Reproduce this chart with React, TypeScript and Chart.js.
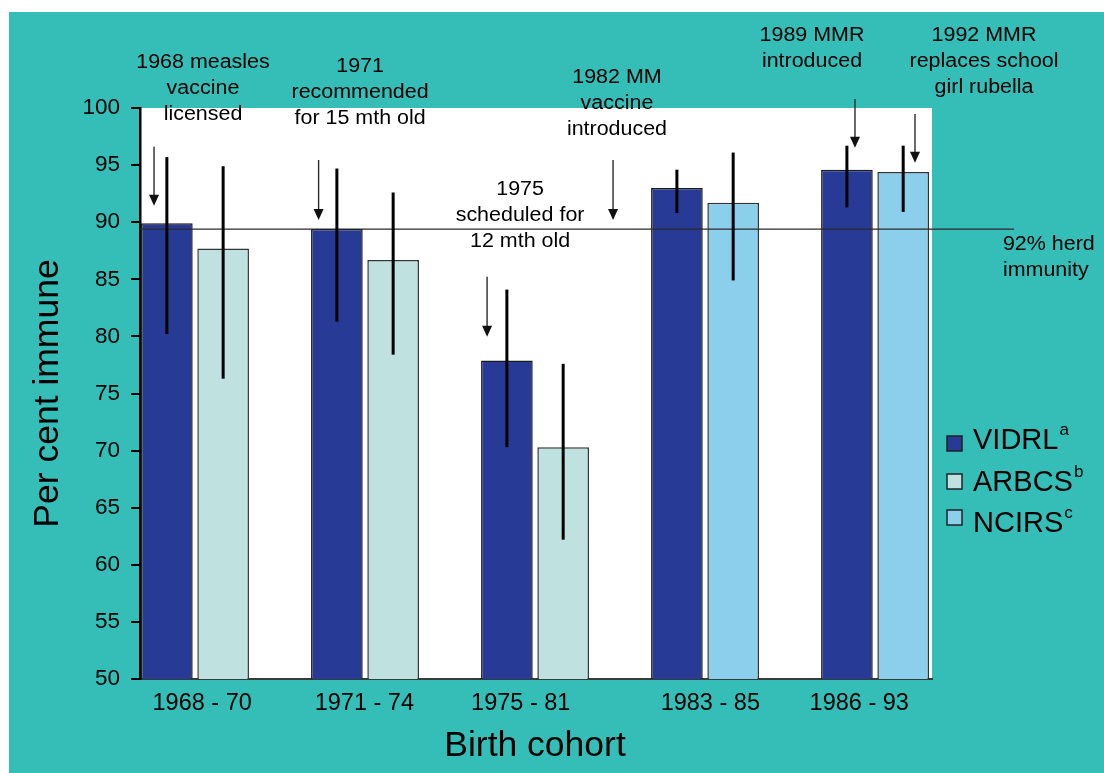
import React, { useEffect, useRef } from 'react';
import { Chart, registerables } from 'chart.js';

Chart.register(...registerables);

const FONT = '"Liberation Sans", Arial, Helvetica, sans-serif';
const OX = 9;
const OY = 12;

// ---- data ----
const cohorts = ['1968 - 70', '1971 - 74', '1975 - 81', '1983 - 85', '1986 - 93'];
const cohortLabelPos = [0.042, 0.996, 1.916, 3.031, 3.907];
const vidrl = [89.9, 89.4, 77.9, 93.0, 94.6];
const vidrlLow = [80.2, 81.3, 70.3, 90.8, 91.3];
const vidrlHigh = [95.7, 94.7, 84.1, 94.6, 96.7];
const arbcs = [87.7, 86.7, 70.3, null, null];
const arbcsLow = [76.3, 78.4, 62.2, null, null];
const arbcsHigh = [94.9, 92.6, 77.6, null, null];
const ncirs = [null, null, null, 91.7, 94.4];
const ncirsLow = [null, null, null, 84.9, 90.9];
const ncirsHigh = [null, null, null, 96.1, 96.7];
const herdValue = 89.4;
const yTicks = [50, 55, 60, 65, 70, 75, 80, 85, 90, 95, 100];

// annotations (x in cohort units, y in percent units)
const notes = [
  { x: 0.047, y: 103.5, lines: ['1968 measles', 'vaccine', 'licensed'] },
  { x: 0.971, y: 103.15, lines: ['1971', 'recommended', 'for 15 mth old'] },
  { x: 1.912, y: 92.38, lines: ['1975', 'scheduled for', '12 mth old'] },
  { x: 2.482, y: 102.19, lines: ['1982 MM', 'vaccine', 'introduced'] },
  { x: 3.629, y: 105.87, lines: ['1989 MMR', 'introduced'] },
  { x: 4.641, y: 105.87, lines: ['1992 MMR', 'replaces school', 'girl rubella'] },
];
const arrows = [
  { x: -0.241, from: 96.61, to: 91.44 },
  { x: 0.727, from: 95.45, to: 90.19 },
  { x: 1.718, from: 85.23, to: 79.97 },
  { x: 2.459, from: 95.45, to: 90.19 },
  { x: 3.882, from: 100.79, to: 96.52 },
  { x: 4.235, from: 99.47, to: 95.21 },
];
const herdLabel = { x: 4.752, y: 87.57, lines: ['92% herd', 'immunity'] };
const herdEnd = 4.818;

const C_BG = '#35BEB8';
const C_VIDRL = '#273A96';
const C_ARBCS = '#BFE2E0';
const C_NCIRS = '#8BCFEC';

const legendItems = [
  { name: 'VIDRL', sup: 'a', color: C_VIDRL },
  { name: 'ARBCS', sup: 'b', color: C_ARBCS },
  { name: 'NCIRS', sup: 'c', color: C_NCIRS },
];

const NOTE_SIZE = 19.5;
const NOTE_STRETCH = 1.1;
const GROUP_FRACTION = 0.662; // of one cohort step

const decor = {
  id: 'decor',
  beforeDraw(chart: any) {
    const { ctx, chartArea: a, width, height } = chart;
    ctx.save();
    ctx.fillStyle = C_BG;
    ctx.fillRect(0, 0, width, height);
    ctx.fillStyle = '#ffffff';
    ctx.fillRect(a.left, a.top, a.right - a.left, a.bottom - a.top);
    ctx.restore();
  },
  afterDatasetsDraw(chart: any) {
    const { ctx, chartArea: a } = chart;
    const xs = chart.scales.x;
    const ys = chart.scales.y;
    ctx.save();

    // herd immunity line
    ctx.strokeStyle = '#2a2a2a';
    ctx.lineWidth = 1.3;
    ctx.beginPath();
    const hy = ys.getPixelForValue(herdValue);
    ctx.moveTo(a.left, hy);
    ctx.lineTo(xs.getPixelForValue(herdEnd), hy);
    ctx.stroke();

    // error bars
    const err = [
      [vidrlLow, vidrlHigh],
      [arbcsLow, arbcsHigh],
      [ncirsLow, ncirsHigh],
    ];
    ctx.strokeStyle = '#000';
    ctx.lineWidth = 3;
    err.forEach(([lo, hi], d) => {
      const meta = chart.getDatasetMeta(d);
      lo.forEach((l: any, i: number) => {
        if (l == null || hi[i] == null) return;
        const el = meta.data[i];
        ctx.beginPath();
        ctx.moveTo(el.x, ys.getPixelForValue(hi[i]));
        ctx.lineTo(el.x, ys.getPixelForValue(l));
        ctx.stroke();
      });
    });

    // arrows
    ctx.strokeStyle = '#2a2a2a';
    ctx.fillStyle = '#111';
    ctx.lineWidth = 1.4;
    arrows.forEach((ar) => {
      const x = xs.getPixelForValue(ar.x);
      const y1 = ys.getPixelForValue(ar.from);
      const y2 = ys.getPixelForValue(ar.to);
      ctx.beginPath();
      ctx.moveTo(x, y1);
      ctx.lineTo(x, y2 - 9);
      ctx.stroke();
      ctx.beginPath();
      ctx.moveTo(x - 5, y2 - 11);
      ctx.lineTo(x + 5, y2 - 11);
      ctx.lineTo(x, y2);
      ctx.closePath();
      ctx.fill();
    });

    // annotation text
    ctx.fillStyle = '#000';
    ctx.font = `${NOTE_SIZE}px ${FONT}`;
    ctx.textBaseline = 'alphabetic';
    const drawBlock = (n: any, align: string) => {
      const x = xs.getPixelForValue(n.x);
      const y = ys.getPixelForValue(n.y);
      ctx.save();
      ctx.translate(x, y);
      ctx.scale(NOTE_STRETCH, 1);
      ctx.textAlign = align;
      n.lines.forEach((t: string, i: number) => ctx.fillText(t, 0, i * 26));
      ctx.restore();
    };
    notes.forEach((n) => drawBlock(n, 'center'));
    drawBlock(herdLabel, 'left');

    // legend
    const sqTops = [436, 474, 510];
    const bases = [449, 491, 532];
    legendItems.forEach((it, i) => {
      ctx.fillStyle = it.color;
      ctx.fillRect(947 - OX, sqTops[i] - OY, 15, 15);
      ctx.strokeStyle = '#222';
      ctx.lineWidth = 1.5;
      ctx.strokeRect(947 - OX, sqTops[i] - OY, 15, 15);
      ctx.fillStyle = '#000';
      ctx.font = `29px ${FONT}`;
      ctx.textAlign = 'left';
      ctx.fillText(it.name, 973 - OX, bases[i] - OY);
      const w = ctx.measureText(it.name).width;
      ctx.font = `17px ${FONT}`;
      ctx.fillText(it.sup, 973 - OX + w + 1, bases[i] - OY - 14);
    });

    // axis titles
    ctx.fillStyle = '#000';
    ctx.font = `35.5px ${FONT}`;
    ctx.textAlign = 'center';
    ctx.fillText('Birth cohort', 535 - OX, 756 - OY);
    ctx.save();
    ctx.translate(58 - OX, 393.5 - OY);
    ctx.rotate(-Math.PI / 2);
    ctx.fillText('Per cent immune', 0, 0);
    ctx.restore();

    ctx.restore();
  },
};

export default function App() {
  const ref = useRef<HTMLCanvasElement>(null);
  useEffect(() => {
    const canvas = ref.current!;
    const pts = (arr: (number | null)[]) => arr.map((y, i) => ({ x: i, y }));
    // Chart.js sizes bars from the smallest gap among data points AND ticks
    let minGap = 1;
    for (let i = 1; i < cohortLabelPos.length; i++) {
      minGap = Math.min(minGap, cohortLabelPos[i] - cohortLabelPos[i - 1]);
    }
    const catPct = GROUP_FRACTION / minGap;
    const chart = new Chart(canvas, {
      type: 'bar',
      data: {
        datasets: [
          { label: 'VIDRL', data: pts(vidrl), backgroundColor: C_VIDRL, borderColor: '#1a1a1a', borderWidth: 1.5, skipNull: true } as any,
          { label: 'ARBCS', data: pts(arbcs), backgroundColor: C_ARBCS, borderColor: '#333', borderWidth: 1.5, skipNull: true } as any,
          { label: 'NCIRS', data: pts(ncirs), backgroundColor: C_NCIRS, borderColor: '#333', borderWidth: 1.5, skipNull: true } as any,
        ],
      },
      options: {
        animation: false,
        responsive: true,
        maintainAspectRatio: false,
        layout: { padding: { top: 96, right: 172, left: 0, bottom: 0 } },
        datasets: { bar: { categoryPercentage: catPct, barPercentage: 0.918 } },
        plugins: { legend: { display: false }, tooltip: { enabled: false } },
        scales: {
          x: {
            type: 'linear',
            min: -0.3235,
            max: 4.335,
            offset: false,
            afterBuildTicks: (s: any) => {
              s.ticks = cohortLabelPos.map((v) => ({ value: v }));
            },
            afterFit: (s: any) => {
              s.height = 94;
            },
            grid: { display: false, drawTicks: false },
            border: { display: true, color: '#3a3a3a', width: 2 },
            ticks: {
              callback: (_v: any, i: number) => cohorts[i] ?? '',
              color: '#000',
              font: { family: FONT, size: 23.5 },
              padding: 10,
              maxRotation: 0,
              autoSkip: false,
            },
          },
          y: {
            min: 50,
            max: 100,
            afterBuildTicks: (s: any) => {
              s.ticks = yTicks.map((v) => ({ value: v }));
            },
            afterFit: (s: any) => {
              s.width = 131;
            },
            ticks: { color: '#000', font: { family: FONT, size: 22.5 }, padding: 11 },
            grid: { drawOnChartArea: false, drawTicks: true, tickLength: 9, color: '#000', lineWidth: 2 },
            border: { color: '#000', width: 2.5 },
          },
        },
      } as any,
      plugins: [decor],
    });
    return () => chart.destroy();
  }, []);
  return (
    <div style={{ position: 'fixed', left: OX, top: OY, width: 1095, height: 761 }}>
      <canvas ref={ref} />
    </div>
  );
}
